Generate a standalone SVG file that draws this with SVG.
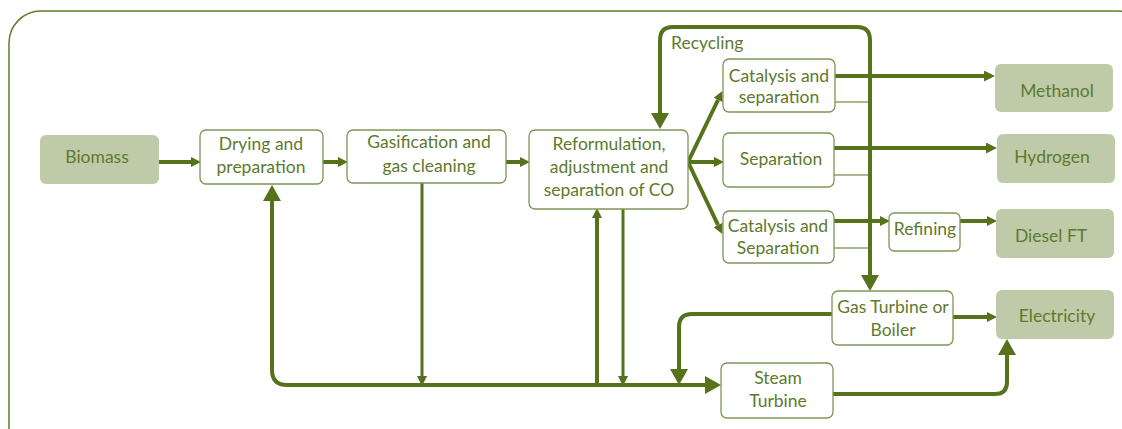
<svg xmlns="http://www.w3.org/2000/svg" width="1122" height="429" viewBox="0 0 1122 429">
<style>
.frame{fill:none;stroke:#5f7d2c;stroke-width:1.5}
.box{fill:#fff;stroke:#7d9655;stroke-width:1.3}
.prod{fill:#bfcaa9;stroke:none}
text{font-family:Lato,"Open Sans","Liberation Sans",sans-serif;font-size:17.5px;fill:#5e7a2c;text-anchor:middle}
.c{fill:none;stroke:#56731c;stroke-linecap:butt;stroke-linejoin:round}
.w4{stroke-width:4}
.w3{stroke-width:3}
.thin{stroke-width:1.2}
</style>
<defs>
<marker id="s" markerUnits="userSpaceOnUse" markerWidth="10" markerHeight="10" refX="0" refY="5" orient="auto" viewBox="0 0 10 10"><path d="M0,0 L10,5 L0,10 z" fill="#56731c"/></marker>
<marker id="m" markerUnits="userSpaceOnUse" markerWidth="11" markerHeight="11" refX="0" refY="5.5" orient="auto" viewBox="0 0 11 11"><path d="M0,0 L11,5.5 L0,11 z" fill="#56731c"/></marker>
<marker id="b" markerUnits="userSpaceOnUse" markerWidth="16" markerHeight="18" refX="0" refY="9" orient="auto" viewBox="0 0 16 18"><path d="M0,0 L16,9 L0,18 z" fill="#56731c"/></marker>
</defs>
<rect class="frame" x="9" y="11" width="1140" height="450" rx="32"/>
<g id="connectors">
<path class="c w4" d="M159,162 H191" marker-end="url(#s)"/>
<path class="c w4" d="M323,162 H338" marker-end="url(#s)"/>
<path class="c w4" d="M506,162 H520" marker-end="url(#s)"/>
<path class="c w4" d="M688,162 L718,100" marker-end="url(#s)"/>
<path class="c w4" d="M688,162 H714" marker-end="url(#s)"/>
<path class="c w4" d="M688,162 L718,225" marker-end="url(#s)"/>
<path class="c w4" d="M835,76 H984" marker-end="url(#m)"/>
<path class="c w4" d="M834,148 H986" marker-end="url(#m)"/>
<path class="c w4" d="M834,221 H880" marker-end="url(#s)"/>
<path class="c w4" d="M960,221 H987" marker-end="url(#s)"/>
<path class="c w4" d="M953,317 H987" marker-end="url(#s)"/>
<path class="c thin" d="M835,102 H870"/>
<path class="c thin" d="M834,175 H870"/>
<path class="c thin" d="M834,248 H870"/>
<path class="c w4" d="M870,40 Q870,27 857,27 H673 Q660,27 660,40 V113" marker-end="url(#b)"/>
<path class="c w4" d="M870,40 V275" marker-end="url(#b)"/>
<path class="c w4" d="M287,385 Q272,385 272,370 V201" marker-end="url(#b)"/>
<path class="c w4" d="M286,385 H705" marker-end="url(#b)"/>
<path class="c w3" d="M422,183 V376" marker-end="url(#s)"/>
<path class="c w4" d="M597,385 V218" marker-end="url(#s)"/>
<path class="c w3" d="M623,209 V376" marker-end="url(#s)"/>
<path class="c w4" d="M832,314 H692 Q679,314 679,327 V369" marker-end="url(#b)"/>
<path class="c w4" d="M833,394 H995 Q1007,394 1007,382 V355" marker-end="url(#b)"/>
<text x="671" y="49" style="text-anchor:start">Recycling</text>
</g>
<g id="biomass"><rect class="prod" x="40" y="135" width="119" height="49" rx="6"/><text x="97" y="163">Biomass</text></g>
<g id="drying"><rect class="box" x="200" y="130" width="123" height="54" rx="6"/><text x="261" y="150">Drying and</text><text x="261" y="173">preparation</text></g>
<g id="gasification"><rect class="box" x="347" y="130" width="159" height="53" rx="6"/><text x="429" y="148">Gasification and</text><text x="429" y="172">gas cleaning</text></g>
<g id="reformulation"><rect class="box" x="529" y="130" width="159" height="79" rx="6"/><text x="609" y="150">Reformulation,</text><text x="609" y="173">adjustment and</text><text x="609" y="196">separation of CO</text></g>
<g id="catalysis1"><rect class="box" x="723" y="59" width="112" height="53" rx="6"/><text x="779" y="82">Catalysis and</text><text x="779" y="103">separation</text></g>
<g id="separation"><rect class="box" x="723" y="133" width="111" height="54" rx="6"/><text x="781" y="165">Separation</text></g>
<g id="catalysis2"><rect class="box" x="723" y="211" width="111" height="52" rx="6"/><text x="778" y="232">Catalysis and</text><text x="778" y="254">Separation</text></g>
<g id="refining"><rect class="box" x="889" y="213" width="71" height="38" rx="5"/><text x="925" y="235">Refining</text></g>
<g id="gasturbine"><rect class="box" x="832" y="291" width="121" height="54" rx="6"/><text x="893" y="313">Gas Turbine or</text><text x="893" y="336">Boiler</text></g>
<g id="steamturbine"><rect class="box" x="721" y="363" width="112" height="55" rx="6"/><text x="778" y="384">Steam</text><text x="778" y="407">Turbine</text></g>
<g id="methanol"><rect class="prod" x="995" y="64" width="118" height="48" rx="6"/><text x="1057" y="97">Methanol</text></g>
<g id="hydrogen"><rect class="prod" x="997" y="134" width="118" height="49" rx="6"/><text x="1052" y="163">Hydrogen</text></g>
<g id="diesel"><rect class="prod" x="996" y="209" width="118" height="49" rx="6"/><text x="1051" y="242">Diesel FT</text></g>
<g id="electricity"><rect class="prod" x="996" y="290" width="118" height="49" rx="6"/><text x="1057" y="322">Electricity</text></g>
</svg>
